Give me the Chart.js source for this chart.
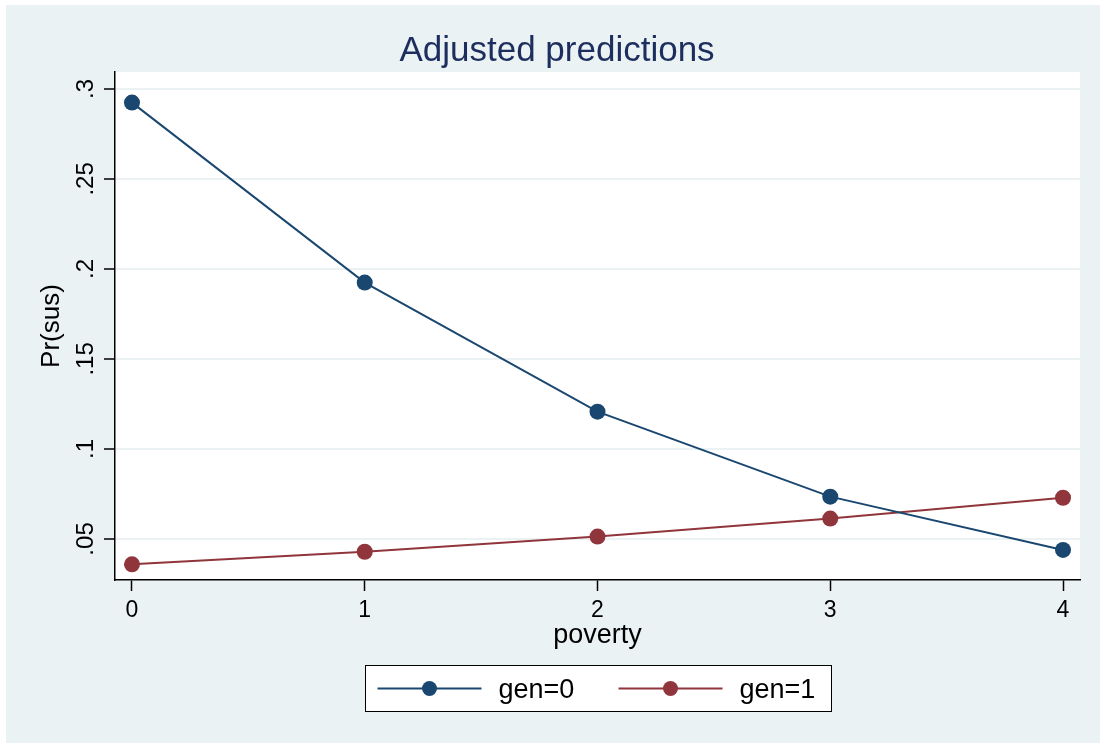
<!DOCTYPE html>
<html><head><meta charset="utf-8">
<script src="https://cdn.jsdelivr.net/npm/chart.js@4"></script>
<style>html,body{margin:0;padding:0;background:#fff}#wrap{width:1100px;height:743px}</style>
</head><body><div id="wrap"><canvas id="c" width="1100" height="743"></canvas></div>
<script>
const povertyLevels = [0, 1, 2, 3, 4];
const gen0Values = [0.2924, 0.1924, 0.1207, 0.0735, 0.0439];
const gen1Values = [0.0359, 0.0429, 0.0513, 0.0613, 0.0729];
const seriesLabels = ['gen=0', 'gen=1'];
const xTickValues = [0, 1, 2, 3, 4];
const yTickValues = [0.05, 0.1, 0.15, 0.2, 0.25, 0.3];
const yTickLabels = ['.05', '.1', '.15', '.2', '.25', '.3'];
const chartTitle = 'Adjusted predictions';
const xAxisTitle = 'poverty';
const yAxisTitle = 'Pr(sus)';

const FONT = '"Liberation Sans", Arial, sans-serif';
const BG = '#eaf2f3';
const NAVY = '#1a476f';
const MAROON = '#90353b';

const decor = {
  id: 'decor',
  beforeDraw(chart) {
    const ctx = chart.ctx, a = chart.chartArea;
    ctx.save();
    ctx.fillStyle = '#fff';
    ctx.fillRect(0, 0, chart.width, chart.height);
    ctx.fillStyle = BG;
    ctx.fillRect(6, 5, chart.width - 6, chart.height - 5);
    ctx.fillStyle = '#fff';
    ctx.fillRect(a.left, a.top, a.right - a.left, a.bottom - a.top);
    ctx.restore();
  },
  afterDraw(chart) {
    const ctx = chart.ctx, a = chart.chartArea;
    ctx.save();
    // title
    ctx.fillStyle = '#1c2d5e';
    ctx.font = '35px ' + FONT;
    ctx.textAlign = 'center';
    ctx.textBaseline = 'alphabetic';
    ctx.fillText(chartTitle, 557, 61);
    // y tick labels (rotated)
    const ys = chart.scales.y;
    ctx.fillStyle = '#000';
    ctx.font = '24px ' + FONT;
    yTickValues.forEach((v, i) => {
      const py = ys.getPixelForValue(v);
      ctx.save();
      ctx.translate(a.left - 22, py);
      ctx.rotate(-Math.PI / 2);
      ctx.textAlign = 'center';
      ctx.textBaseline = 'alphabetic';
      ctx.fillText(yTickLabels[i], 0, 0);
      ctx.restore();
    });
    // legend
    const cx = (a.left + a.right) / 2;
    const bw = 466, bh = 46;
    const bx = Math.round(cx - bw / 2) + 0.5, by = 665.5;
    ctx.fillStyle = '#fff';
    ctx.fillRect(bx, by, bw, bh);
    ctx.strokeStyle = '#000';
    ctx.lineWidth = 1;
    ctx.strokeRect(bx, by, bw, bh);
    const ly = by + 23;
    chart.data.datasets.forEach((ds, i) => {
      const x0 = bx + 12 + i * 241;
      ctx.strokeStyle = ds.borderColor;
      ctx.lineWidth = 2;
      ctx.beginPath();
      ctx.moveTo(x0, ly);
      ctx.lineTo(x0 + 104, ly);
      ctx.stroke();
      ctx.fillStyle = ds.borderColor;
      ctx.beginPath();
      ctx.arc(x0 + 52, ly, 7.5, 0, Math.PI * 2);
      ctx.fill();
      ctx.fillStyle = '#000';
      ctx.font = '27px ' + FONT;
      ctx.textAlign = 'left';
      ctx.textBaseline = 'alphabetic';
      ctx.fillText(ds.label, x0 + 121, ly + 9);
    });
    ctx.restore();
  }
};

const makeSeries = vals => povertyLevels.map((p, i) => ({ x: p, y: vals[i] }));

new Chart(document.getElementById('c'), {
  type: 'line',
  data: {
    datasets: [
      { label: seriesLabels[0], data: makeSeries(gen0Values), borderColor: NAVY, backgroundColor: NAVY,
        pointBackgroundColor: NAVY, borderWidth: 2, pointRadius: 8, pointBorderWidth: 0, tension: 0 },
      { label: seriesLabels[1], data: makeSeries(gen1Values), borderColor: MAROON, backgroundColor: MAROON,
        pointBackgroundColor: MAROON, borderWidth: 2, pointRadius: 8, pointBorderWidth: 0, tension: 0 }
    ]
  },
  options: {
    responsive: false,
    devicePixelRatio: 1,
    animation: false,
    layout: { padding: { top: 72, right: 20, bottom: 0, left: 0 } },
    plugins: { legend: { display: false }, title: { display: false }, tooltip: { enabled: false } },
    scales: {
      x: {
        type: 'linear',
        min: -0.073, max: 4.073,
        afterBuildTicks: s => { s.ticks = xTickValues.map(v => ({ value: v })); },
        afterFit: s => { s.height = 163; },
        grid: { drawOnChartArea: false, drawTicks: true, tickLength: 11, tickColor: '#000', tickWidth: 1.5 },
        border: { display: true, color: '#000', width: 1.5 },
        ticks: { color: '#000', font: { family: FONT, size: 23 }, padding: 6, maxRotation: 0,
                 callback: v => String(v) },
        title: { display: true, text: xAxisTitle, color: '#000', font: { family: FONT, size: 27 },
                 padding: { top: 0, bottom: 91 } }
      },
      y: {
        type: 'linear',
        min: 0.0272, max: 0.3094,
        afterBuildTicks: s => { s.ticks = yTickValues.map(v => ({ value: v })); },
        afterFit: s => { s.width = 115; },
        grid: { drawOnChartArea: true, color: BG, lineWidth: 2, drawTicks: true, tickLength: 11,
                tickColor: '#000', tickWidth: 1.5 },
        border: { display: true, color: '#000', width: 1.5 },
        ticks: { display: false },
        title: { display: true, text: yAxisTitle, color: '#000', font: { family: FONT, size: 26 },
                 padding: { top: 36, bottom: 0 } }
      }
    }
  },
  plugins: [decor]
});
</script>
</body></html>
